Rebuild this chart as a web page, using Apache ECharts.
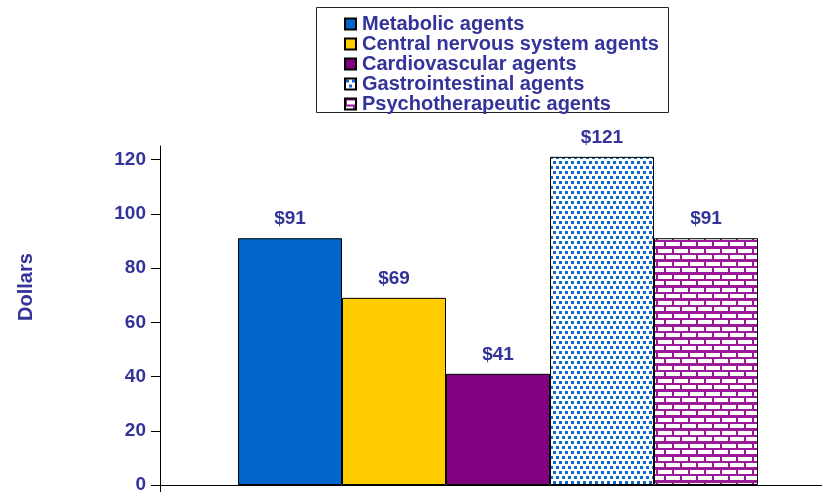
<!DOCTYPE html>
<html>
<head>
<meta charset="utf-8">
<script src="https://cdn.jsdelivr.net/npm/echarts@6/dist/echarts.min.js"></script>
<style>
    html, body { margin: 0; padding: 0; background: #fff; }
    #main { width: 822px; height: 495px; }
</style>
</head>
<body>
<div id="main"></div>
<script>
var categories = ['Metabolic agents', 'Central nervous system agents', 'Cardiovascular agents', 'Gastrointestinal agents', 'Psychotherapeutic agents'];
var values = [91, 69, 41, 121, 91];
var yTicks = [0, 20, 40, 60, 80, 100, 120];

var navy = '#333399';
var font = 'Liberation Sans, Arial, sans-serif';

// dotted fill for gastrointestinal
function dotPattern () {
    var c = document.createElement('canvas');
    c.width = 12; c.height = 10;
    var ctx = c.getContext('2d');
    ctx.fillStyle = '#fff';
    ctx.fillRect(0, 0, 12, 10);
    ctx.fillStyle = '#0a6ad2';
    ctx.fillRect(1, 1, 3, 3);
    ctx.fillRect(7, 1, 3, 3);
    ctx.fillRect(4, 6, 3, 3);
    ctx.fillRect(10, 6, 2, 3);
    ctx.fillRect(0, 6, 1, 3);
    return c;
}

// brick fill for psychotherapeutic
function brickPattern () {
    var c = document.createElement('canvas');
    c.width = 16; c.height = 13;
    var ctx = c.getContext('2d');
    ctx.fillStyle = '#9a1a9a';
    ctx.fillRect(0, 0, 16, 13);
    ctx.fillStyle = '#fff';
    ctx.fillRect(2, 2, 14, 4);
    ctx.fillRect(10, 8, 6, 4);
    ctx.fillRect(0, 8, 8, 4);
    return c;
}

var fills = [
    '#0066cc',
    '#ffcc00',
    '#800080',
    { image: dotPattern(), repeat: 'repeat' },
    { image: brickPattern(), repeat: 'repeat' }
];

// blank spacer so the bar group sits where the original puts it
var series = [{
    name: 'spacer',
    type: 'bar',
    barWidth: 14,
    barGap: '0%',
    data: [0],
    itemStyle: { color: 'rgba(0,0,0,0)', borderWidth: 0 },
    silent: true
}];

categories.forEach(function (name, i) {
    series.push({
        name: name,
        type: 'bar',
        barWidth: 104,
        barGap: '0%',
        data: [values[i]],
        itemStyle: { color: fills[i], borderColor: '#000', borderWidth: 1 },
        label: {
            show: true,
            position: 'top',
            distance: 10,
            formatter: '${c}',
            color: navy,
            fontWeight: 'bold',
            fontSize: 19,
            fontFamily: font
        }
    });
});

var option = {
    animation: false,
    backgroundColor: '#fff',
    grid: { left: 160, top: 146, right: 0, height: 339 },
    legend: {
        orient: 'vertical',
        left: 344,
        top: 14,
        padding: 0,
        itemWidth: 11,
        itemHeight: 11,
        itemGap: 0,
        icon: 'rect',
        textStyle: { color: navy, fontWeight: 'bold', fontSize: 20, lineHeight: 19.6, fontFamily: font, padding: [0, 0, 0, 1] },
        data: categories
    },
    graphic: [
        {
            type: 'rect',
            shape: { x: 316.5, y: 7.5, width: 352, height: 105 },
            style: { fill: 'none', stroke: '#222', lineWidth: 1 }
        },
        {
            type: 'text',
            x: 26,
            y: 287,
            rotation: Math.PI / 2,
            style: {
                text: 'Dollars',
                fill: navy,
                font: 'bold 20px ' + font,
                align: 'center',
                verticalAlign: 'middle'
            }
        }
    ],
    xAxis: {
        type: 'category',
        data: [''],
        axisLine: { lineStyle: { color: '#000', width: 1 } },
        axisTick: { show: true, length: 7, lineStyle: { color: '#000' } },
        axisLabel: { show: false }
    },
    yAxis: {
        type: 'value',
        min: 0,
        max: 125,
        interval: 20,
        splitLine: { show: false },
        axisLine: { show: true, lineStyle: { color: '#000', width: 1 } },
        axisTick: { show: true, length: 9, lineStyle: { color: '#000' }, customValues: yTicks },
        axisLabel: {
            color: navy,
            fontWeight: 'bold',
            fontSize: 19,
            fontFamily: font,
            margin: 14,
            customValues: yTicks
        }
    },
    series: series
};

var myChart = echarts.init(document.getElementById('main'));
myChart.setOption(option);
</script>
</body>
</html>
